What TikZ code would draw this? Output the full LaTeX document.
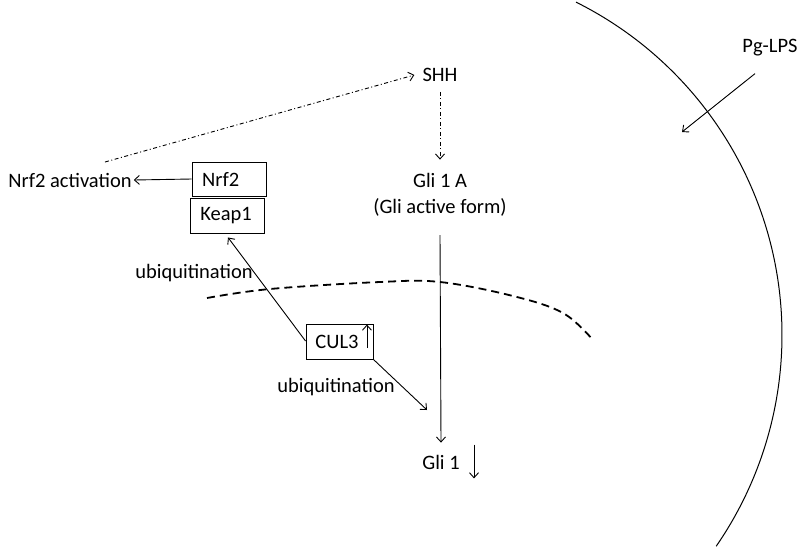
\documentclass[tikz,border=0pt]{standalone}
\usepackage{fontspec}
\setmainfont{Carlito}
\usetikzlibrary{arrows.meta}
\begin{document}
\begin{tikzpicture}[x=1pt,y=-1pt,
  lbl/.style={inner sep=0pt, font=\fontsize{20.5}{23}\selectfont},
  boxn/.style={draw, line width=0.9pt, inner sep=0pt},
  arr/.style={line width=0.9pt, -{Straight Barb[length=5pt,width=9pt]}},
  dd/.style={line width=0.9pt, dash pattern=on 4pt off 2.5pt on 1pt off 2.5pt, -{Straight Barb[length=5pt,width=9pt]}}]
\useasboundingbox (0,0) rectangle (800,550);
\fill[white] (0,0) rectangle (800,550);
% cell membrane arc
\draw[line width=1pt] (410,335) ++(-63.5:372) arc[start angle=-63.5, end angle=34.6, radius=372];
% nuclear envelope dashed
\draw[line width=1.8pt, dash pattern=on 8pt off 5pt] plot[smooth, tension=0.6] coordinates {(207,298) (270,289) (380,282) (440,282) (513,296) (563,313) (593,340)};
% nodes
\node[lbl] (act) at (70,180) {Nrf2 activation};
\node[boxn, minimum width=74pt, minimum height=34pt] (nrf2) at (229,179) {};
\node[lbl, anchor=west] (nrf2t) at (202,179) {Nrf2};
\node[boxn, minimum width=74pt, minimum height=35pt] (keap1) at (227,215.5) {};
\node[lbl] (keap1t) at (226,215.5) {Keap1};
\node[boxn, minimum width=67pt, minimum height=35pt] (cul3) at (339.5,341.5) {};
\node[lbl] (cul3t) at (337,342) {CUL3};
\node[lbl] (shh) at (440,75) {SHH};
\node[lbl] (gli1a) at (440,180) {Gli 1 A};
\node[lbl] (gliact) at (440,207) {(Gli active form)};
\node[lbl] (gli1) at (441,462) {Gli 1};
\node[lbl] (pglps) at (770,48) {Pg-LPS};
\node[lbl] (ub1) at (194,273) {ubiquitination};
\node[lbl] (ub2) at (336,387) {ubiquitination};
% free ends
\coordinate (ddstart) at (105,162);
\coordinate (ubend) at (427,410);
\coordinate (lpsend) at (682,132);
% connectors
\draw[arr] (nrf2.west) -- ([xshift=2pt]act.east);
\draw[dd] (ddstart) -- ([xshift=-8pt]shh.west);
\draw[dd] ([yshift=-10pt]shh.south) -- ([yshift=13pt]gli1a.north);
\draw[arr] ([yshift=-19pt]gliact.south) -- ([yshift=12pt]gli1.north);
\draw[arr] ([yshift=0.5pt]cul3.west) -- ([xshift=1pt,yshift=-4pt]keap1.south);
\draw[arr] (cul3.south east) -- (ubend);
\draw[arr] ([xshift=-15pt,yshift=-17pt]pglps.south) -- (lpsend);
\draw[arr] ([xshift=-6.5pt,yshift=-6.5pt]cul3.east) -- ([xshift=-6.5pt,yshift=-1pt]cul3.north east);
\draw[arr] ([xshift=33pt,yshift=10pt]gli1.north) -- ([xshift=33pt,yshift=-9pt]gli1.south);
\end{tikzpicture}
\end{document}
